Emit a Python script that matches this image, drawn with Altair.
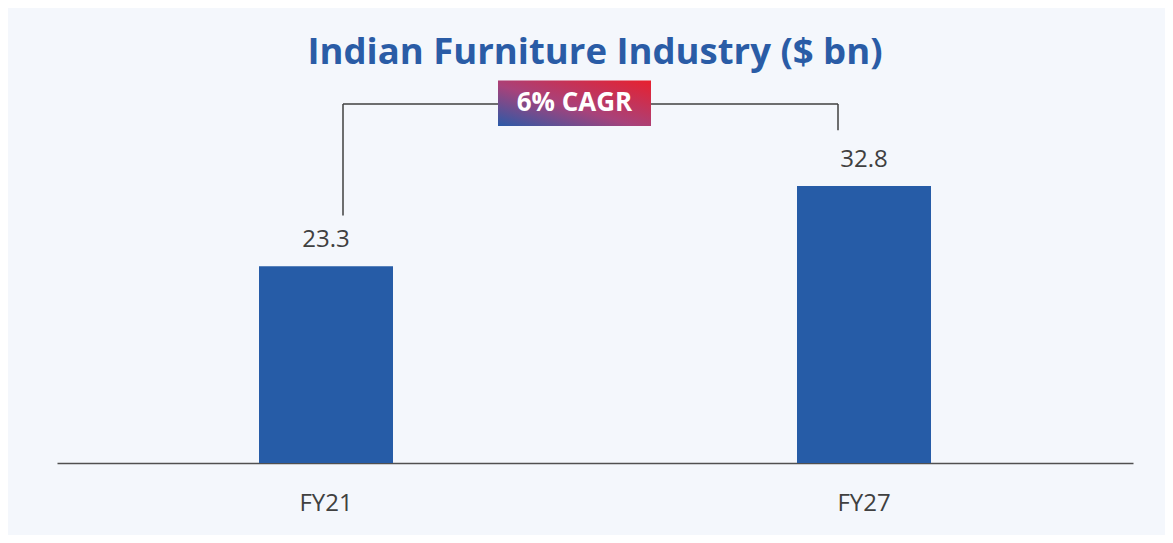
import altair as alt
import pandas as pd

categories = ["FY21", "FY27"]
values = [23.3, 32.8]
value_labels = ["23.3", "32.8"]
title_text = "Indian Furniture Industry ($ bn)"
cagr_label = "6% CAGR"

# bracket annotation (y in data units)
bracket_left_bottom = 29.3
bracket_top = 42.5
bracket_right_bottom = 39.4
badge_bottom = 39.9
badge_top = 45.3

BLUE = "#265ca7"
TEXT = "#404040"
BG = "#f4f7fc"
FONT = "Open Sans"

df = pd.DataFrame({"year": categories, "value": values, "label": value_labels})

x_scale = alt.Scale(domain=categories, paddingInner=0, paddingOuter=0)
y_scale = alt.Scale(domain=[0, 45])

x_enc = alt.X(
    "year:N",
    scale=x_scale,
    axis=alt.Axis(
        title=None, labelAngle=0, labelFontSize=24, labelColor=TEXT, labelFont=FONT,
        domainColor="#505050", domainWidth=1.5, ticks=False, labelPadding=28, grid=False,
    ),
)
y_enc = alt.Y("value:Q", scale=y_scale, axis=None)

base = alt.Chart(df)
bars = base.mark_bar(color=BLUE, size=134).encode(x=x_enc, y=y_enc)
labels = base.mark_text(
    fontSize=24, font=FONT, color=TEXT, baseline="alphabetic", dy=-19
).encode(x=x_enc, y=y_enc, text="label:N")

left_df = pd.DataFrame({"year": [categories[0]], "y1": [bracket_left_bottom], "y2": [bracket_top]})
right_df = pd.DataFrame({"year": [categories[1]], "y1": [bracket_right_bottom], "y2": [bracket_top]})
top_df = pd.DataFrame({"a": [categories[0]], "b": [categories[1]], "y": [bracket_top]})

line_color = "#404040"
left_line = alt.Chart(left_df).mark_rule(color=line_color, strokeWidth=1.5, xOffset=17).encode(
    x=alt.X("year:N", scale=x_scale), y=alt.Y("y1:Q", scale=y_scale), y2="y2:Q"
)
right_line = alt.Chart(right_df).mark_rule(color=line_color, strokeWidth=1.5, xOffset=-26).encode(
    x=alt.X("year:N", scale=x_scale), y=alt.Y("y1:Q", scale=y_scale), y2="y2:Q"
)
top_line = alt.Chart(top_df).mark_rule(color=line_color, strokeWidth=1.5, xOffset=17, x2Offset=-26).encode(
    x=alt.X("a:N", scale=x_scale), x2="b:N", y=alt.Y("y:Q", scale=y_scale)
)

badge_df = pd.DataFrame({"y1": [badge_bottom], "y2": [badge_top], "mid": [(badge_bottom + badge_top) / 2], "t": [cagr_label]})
gradient = alt.Gradient(
    gradient="linear",
    stops=[alt.GradientStop(color="#2a5aa8", offset=0), alt.GradientStop(color="#a8427a", offset=0.45),
           alt.GradientStop(color="#e8202e", offset=1)],
    x1=0, y1=1, x2=1, y2=0,
)
badge = alt.Chart(badge_df).mark_rect(color=gradient).encode(
    x=alt.value(441), x2=alt.value(594), y=alt.Y("y1:Q", scale=y_scale), y2="y2:Q"
)
badge_text = alt.Chart(badge_df).mark_text(
    fontSize=26, fontWeight="bold", font=FONT, color="white", baseline="middle"
).encode(x=alt.value(517.5), y=alt.Y("mid:Q", scale=y_scale), text="t:N")

chart = alt.layer(bars, labels, left_line, right_line, top_line, badge, badge_text).properties(
    width=1076, height=380,
    title=alt.TitleParams(title_text, fontSize=36.5, font=FONT, fontWeight="bold", color="#2a5ca6",
                          anchor="middle", offset=9),
    background=BG,
    padding={"left": 49, "top": 75, "right": 32, "bottom": 72},
    autosize=alt.AutoSizeParams(type="none"),
).configure_view(stroke=None)

chart.save("out.html", embed_options={"renderer": "svg", "actions": False})
